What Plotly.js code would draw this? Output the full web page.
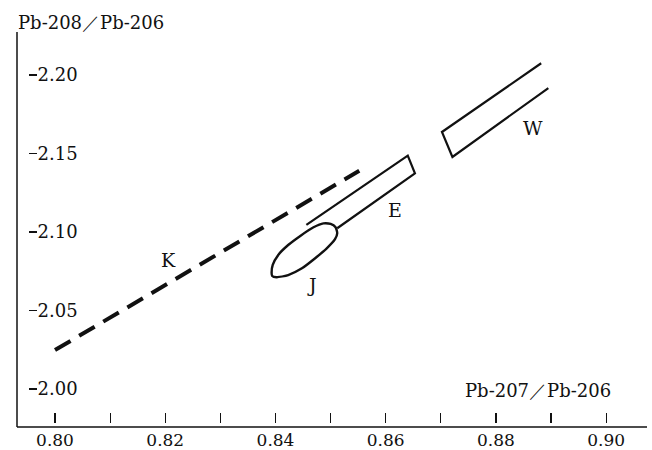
<!DOCTYPE html>
<html>
<head>
<meta charset="utf-8">
<script src="https://cdn.plot.ly/plotly-3.0.1.min.js"></script>
<style>
html,body{margin:0;padding:0;background:#fff;}
#chart{width:652px;height:450px;}
</style>
</head>
<body>
<div id="chart"></div>
<script>
// ---- data (Pb-207/Pb-206 vs Pb-208/Pb-206) ----
var kX = [0.8000, 0.8552];
var kY = [2.0248, 2.1390];

var eX = [0.8456, 0.8640, 0.8653, 0.8512];
var eY = [2.1045, 2.1486, 2.1374, 2.1024];

var jX = [0.8393, 0.8395, 0.8405, 0.8423, 0.8445, 0.8469, 0.8487, 0.8500, 0.8509, 0.8512,
          0.8508, 0.8493, 0.8472, 0.8448, 0.8423, 0.8402, 0.8394, 0.8393];
var jY = [2.0737, 2.0790, 2.0854, 2.0917, 2.0975, 2.1030, 2.1055, 2.1051, 2.1030, 2.0992,
          2.0954, 2.0896, 2.0833, 2.0769, 2.0726, 2.0712, 2.0720, 2.0737];

var wX = [0.8882, 0.8702, 0.8721, 0.8895];
var wY = [2.2075, 2.1637, 2.1478, 2.1917];

var labelText = ["K", "E", "J", "W"];
var labelX = [0.8205, 0.8617, 0.8466, 0.8868];
var labelY = [2.0822, 2.1140, 2.0662, 2.1662];

var xTicks = [0.80, 0.81, 0.82, 0.83, 0.84, 0.85, 0.86, 0.87, 0.88, 0.89, 0.90];
var xTickText = ["0.80", "", "0.82", "", "0.84", "", "0.86", "", "0.88", "", "0.90"];
var yTicks = [2.00, 2.05, 2.10, 2.15, 2.20];
var yTickText = ["2.00", "2.05", "2.10", "2.15", "2.20"];

var xTitle = "Pb-207／Pb-206";
var yTitle = "Pb-208／Pb-206";

// ---- layout ----
var W = 652, H = 450;
var mL = 0, mR = 5, mT = 32, mB = 27;
var pw = W - mL - mR, ph = H - mT - mB;   // paper area in px
var plotLeft = 28;                          // px where the plotting area starts
var FONT = "DejaVu Serif, Liberation Serif, serif";
var ink = "#111";
function px2pX(p) { return (p - mL) / pw; }
function py2pY(p) { return (H - mB - p) / ph; }

var traces = [
  {x: kX, y: kY, mode: "lines", line: {color: ink, width: 4, dash: "18px,10px"}, hoverinfo: "skip"},
  {x: eX, y: eY, mode: "lines", line: {color: ink, width: 2.2}, hoverinfo: "skip"},
  {x: jX, y: jY, mode: "lines", line: {color: ink, width: 2.4, shape: "spline", smoothing: 0.6}, hoverinfo: "skip"},
  {x: wX, y: wY, mode: "lines", line: {color: ink, width: 2.2}, hoverinfo: "skip"}
];

var annotations = [];
for (var i = 0; i < labelText.length; i++) {
  annotations.push({x: labelX[i], y: labelY[i], xref: "x", yref: "y", text: labelText[i],
    showarrow: false, font: {family: FONT, size: 19, color: ink}});
}
annotations.push({x: px2pX(16), y: py2pY(22), xref: "paper", yref: "paper",
  xanchor: "left", yanchor: "middle", text: yTitle, showarrow: false,
  font: {family: FONT, size: 18, color: ink}});
annotations.push({x: px2pX(613), y: py2pY(390), xref: "paper", yref: "paper",
  xanchor: "right", yanchor: "middle", text: xTitle, showarrow: false,
  font: {family: FONT, size: 18, color: ink}});

var shapes = [
  {type: "line", xref: "paper", yref: "paper", x0: px2pX(17), x1: px2pX(17),
   y0: py2pY(427), y1: py2pY(32), line: {color: ink, width: 1.5}},
  {type: "line", xref: "paper", yref: "paper", x0: px2pX(17), x1: px2pX(647),
   y0: py2pY(427), y1: py2pY(427), line: {color: ink, width: 1.5}}
];

var layout = {
  width: W, height: H,
  margin: {l: mL, r: mR, t: mT, b: mB, pad: 0},
  paper_bgcolor: "#fff", plot_bgcolor: "#fff",
  showlegend: false,
  font: {family: FONT, size: 17, color: ink},
  xaxis: {domain: [px2pX(plotLeft), 1], range: [0.7951, 0.9074],
    showgrid: false, zeroline: false, showline: false,
    tickmode: "array", tickvals: xTicks, ticktext: xTickText,
    ticks: "inside", ticklen: 10, tickwidth: 1.2, tickcolor: ink,
    ticklabelstandoff: 5,
    tickfont: {family: FONT, size: 17, color: ink}},
  yaxis: {range: [1.97834, 2.22739], anchor: "free", position: px2pX(plotLeft), side: "right",
    showgrid: false, zeroline: false, showline: false,
    tickmode: "array", tickvals: yTicks, ticktext: yTickText,
    ticks: "outside", ticklen: 8, tickwidth: 1.2, tickcolor: ink,
    ticklabelstandoff: -3,
    tickfont: {family: FONT, size: 18, color: ink}},
  annotations: annotations,
  shapes: shapes
};

Plotly.newPlot("chart", traces, layout, {staticPlot: true, displayModeBar: false});
</script>
</body>
</html>
